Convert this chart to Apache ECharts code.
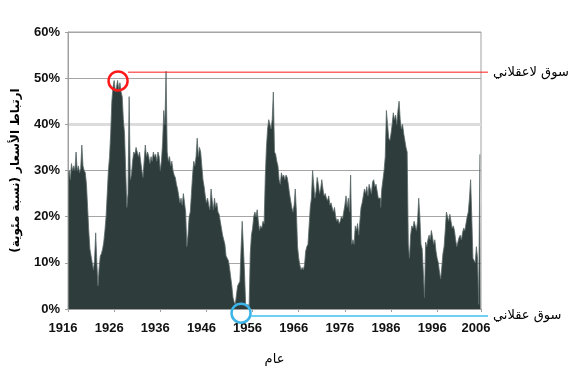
<!DOCTYPE html>
<html><head><meta charset="utf-8">
<script src="https://cdn.jsdelivr.net/npm/echarts@6/dist/echarts.min.js"></script>
<style>html,body{margin:0;padding:0;background:#fff}#c{width:579px;height:371px}</style>
</head><body><div id="c"></div>
<script>
// Quarterly price-correlation readings (%)
const startYear = 1916;
const stepYears = 0.25;
const correlation1916 = [29,30,28,31.5,30,31,30,34,30,31, 29.5,30.5,35.5,31,30,29.5,27,22,17,13,
  11.5,10,8.5,10.5,16.5,10,5,9,11.5,12, 13,14.5,17,20,25,30,33,38,45,48,
  49.5,47,48,49.5,47.5,49,47,46,41,38, 30,22,25,46,28,29,32,34,33.5,35,
  34,33,34,32,30,28.5,32,35.5,33,34, 33,31.5,33,32,34,33,33.5,32,34,33,
  30,32,36,43,40,51.5,34,32,33,31];
const correlation1938 = [32,30,29,28.5,27,26,24.5,23,24,22.5, 25,23,21,13.5,16,20,21,25,29,32,
  31,33,37,33,35,34,31,28,26.5,24.5, 23,24,22.5,21.5,26,23.5,21.5,24,22,23,
  21,20.5,19,17.5,16,15,14,11.5,11,10.5, 9,7,5,2.5,1.5,1,3,5,5.5,6,
  13,19,13.5,8,1,0.5,1,0.5,12,16, 17.5,20,21,20,21.5,19,17,18,17.5,19,
  18.5,28.5,35,39,41,40,39,41,47,34];
const correlation1961 = [33.5,32,31,28,27,29.5,28.5,29,28,29, 28.5,27,25,23.5,22,21,22.5,26,21,13.5,
  11,9.5,8.5,9,8.5,9.5,12.5,13.5,14,18, 22,24,30,27,24,25.5,28.5,27,25,26,
  28,26,24.5,25,24,23.5,24.5,22.5,23,22, 21,22,20,19,19.5,18.5,19,20,19.5,21,
  22.5,24.5,22,24,21,29,14,15,14,18, 17,18.5,16,19,22,23,24.5,26,25,26.5,
  24.5,27,26,25,27.5,28,26.5,27,25.5,24];
const correlation1983 = [24,22,26,28,30,33,43,40,37,36.5, 38,40,42.5,41,42,40,43,45,41,39,
  40,38,36.5,35,34,14,11,16,18,17.5, 19,18,17,19,24,20,14,13,8,2.5,
  14.5,13.5,15,16,15,17,15.5,14,15,12.5, 11,10,8,6.5,9,12,13.5,17,21,20,
  19,20.5,19,17.5,18,17,15,13.5,14.5,15.5, 16,15,16.5,17.5,17,18.5,20,21,24,28,
  20,11,10.5,10,13.5,11,1,33.5];
const correlation = [...correlation1916, ...correlation1938, ...correlation1961, ...correlation1983];

const yTicks = [0, 10, 20, 30, 40, 50, 60];
const irrationalLevel = 51.3;
const rationalLevel = -1.5;
const irrationalLabel = 'سوق لاعقلاني';
const rationalLabel = 'سوق عقلاني';
const yTitle = 'ارتباط الأسعار (نسبة مئوية)';
const xTitle = 'عام';
const redMark = [10.85, 49.4];   // years since 1916, %
const blueMark = [37.5, -0.9];
const redLineStart = 13.0, blueLineStart = 39.7;

const seriesData = correlation.map((v, i) => [i * stepYears + stepYears / 2, v]);
const xMax = correlation.length * stepYears;
const clear = 'rgba(0,0,0,0)';

const chart = echarts.init(document.getElementById('c'), null, {renderer: 'canvas'});
chart.setOption({
  animation: false,
  backgroundColor: '#ffffff',
  grid: {left: 68, right: 98, top: 32, bottom: 62, show: true, borderColor: '#a0a0a0', borderWidth: 1, backgroundColor: clear},
  xAxis: {
    type: 'value', min: 0, max: xMax, interval: 10,
    name: xTitle, nameLocation: 'middle', nameGap: 44,
    nameTextStyle: {fontSize: 13, color: '#000', fontFamily: 'DejaVu Sans'},
    axisLine: {show: true, lineStyle: {color: '#a0a0a0'}},
    axisTick: {show: true, length: 3, lineStyle: {color: '#a0a0a0'}},
    splitLine: {show: false},
    axisLabel: {
      formatter: v => String(Math.round(startYear + v)),
      fontSize: 13, fontWeight: 'bold', color: '#111', fontFamily: 'Liberation Sans',
      margin: 13, padding: [0, 10, 0, 0], hideOverlap: false
    }
  },
  yAxis: [
    {
      type: 'value', min: yTicks[0], max: yTicks[yTicks.length - 1], interval: 10,
      name: yTitle, nameLocation: 'middle', nameGap: 46, nameRotate: 90,
      nameTextStyle: {fontSize: 12, fontWeight: 'bold', color: '#000', fontFamily: 'DejaVu Sans'},
      axisLine: {show: true, lineStyle: {color: '#a0a0a0'}},
      axisTick: {show: true, length: 3, lineStyle: {color: '#a0a0a0'}},
      splitLine: {show: true, lineStyle: {color: ['#a6a6a6','#a6a6a6','#a6a6a6','#a6a6a6','#dcdcdc','#a6a6a6','#a6a6a6'], width: 1}},
      axisLabel: {formatter: '{value}%', fontSize: 13, fontWeight: 'bold', color: '#111', fontFamily: 'Liberation Sans', margin: 8}
    },
    {
      type: 'value', min: 0, max: 60, interval: 20, position: 'right',
      axisLine: {show: false}, axisTick: {show: false}, axisLabel: {show: false},
      splitLine: {show: true, lineStyle: {color: [clear, clear, '#dcdcdc', clear], width: 3}}
    }
  ],
  series: [
    {
      type: 'line', data: seriesData, step: 'middle', showSymbol: false, symbol: 'none', z: 3,
      lineStyle: {color: '#5a6868', width: 0.8},
      areaStyle: {color: '#2f3c3c', opacity: 1}
    }
  ]
});

function px(p) { return chart.convertToPixel({gridIndex: 0}, p); }
const redC = px(redMark), blueC = px(blueMark);
const redA = px([redLineStart, irrationalLevel]);
const blueA = px([blueLineStart, rationalLevel]);
const plotRight = px([xMax, 0])[0];
const lineEnd = plotRight + 7;
chart.setOption({
  graphic: [
    {type: 'line', z: 10, shape: {x1: redA[0], y1: redA[1], x2: lineEnd, y2: redA[1]}, style: {stroke: '#ff1a1a', lineWidth: 1}},
    {type: 'line', z: 10, shape: {x1: blueA[0], y1: blueA[1], x2: lineEnd, y2: blueA[1]}, style: {stroke: '#3cc0f0', lineWidth: 1.5}},
    {type: 'circle', z: 11, shape: {cx: redC[0], cy: redC[1], r: 9.5}, style: {stroke: '#ff1a1a', lineWidth: 2.5, fill: 'none'}},
    {type: 'circle', z: 11, shape: {cx: blueC[0], cy: blueC[1], r: 9.5}, style: {stroke: '#3cb4e8', lineWidth: 2.5, fill: 'none'}},
    {type: 'text', z: 11, x: lineEnd + 5, y: redA[1], style: {text: irrationalLabel, fill: '#000', font: '13px "DejaVu Sans"', textAlign: 'left', textVerticalAlign: 'middle'}},
    {type: 'text', z: 11, x: lineEnd + 5, y: blueA[1], style: {text: rationalLabel, fill: '#000', font: '13px "DejaVu Sans"', textAlign: 'left', textVerticalAlign: 'middle'}}
  ]
});
</script></body></html>
